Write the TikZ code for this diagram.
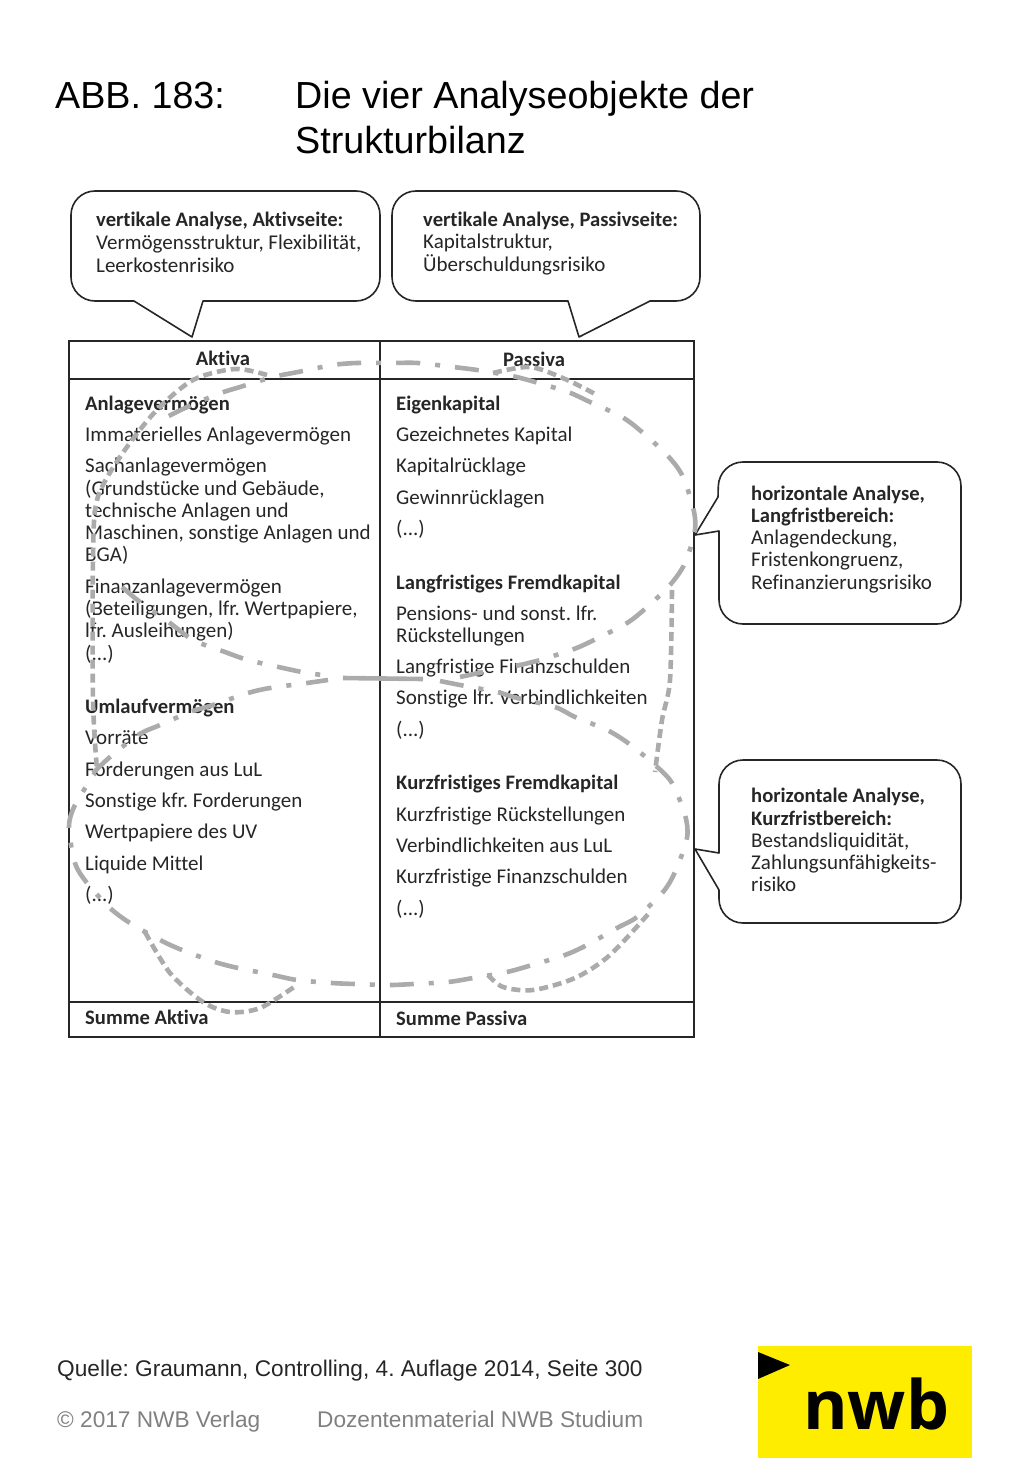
\documentclass[tikz,border=0pt]{standalone}
\usepackage{fontspec}
\setmainfont{Carlito}[Ligatures={NoCommon}]
\newfontfamily\titlefont{Liberation Sans}
\newfontfamily\logofont{Open Sans}
\usepackage{tikz}
\definecolor{inkgray}{HTML}{262626}
\definecolor{loopgray}{HTML}{ABABAB}
\definecolor{nwbyellow}{HTML}{FFED00}
\frenchspacing
\tikzset{
    rowtext/.style={anchor=base west, inner sep=0pt, text=inkgray, font=\fontsize{21}{25}\selectfont},
    rowbold/.style={rowtext, font=\fontsize{20.6}{25}\selectfont\bfseries},
    calloutbox/.style={draw=inkgray, line width=1.6pt, fill=white, line join=round},
    tableline/.style={draw=inkgray, line width=1.8pt},
    loopbar/.style={draw=loopgray, line width=4.6pt},
    dashdotloop/.style={loopbar, dash pattern=on 24pt off 15pt on 5pt off 15pt},
    dashloop/.style={loopbar, dash pattern=on 9pt off 5pt},
    titletext/.style={anchor=base west, inner sep=0pt, text=black, font=\titlefont\fontsize{37.7}{40}\selectfont},
    foottext/.style={anchor=base west, inner sep=0pt, font=\titlefont\fontsize{22.65}{26}\selectfont}
}
\begin{document}
\begin{tikzpicture}[x=1pt, y=-1pt]
    \useasboundingbox (0,0) rectangle (1024,1479);

    % Title
    \node[titletext] (TitleNo) at (55,109) {ABB. 183:};
    \node[titletext] (TitleA) at (295,109) {Die vier Analyseobjekte der};
    \node[titletext] (TitleB) at (295,154) {Strukturbilanz};

    % Speech bubbles
    \draw[calloutbox] (134,301) [rounded corners=24pt] -- (71,301) -- (71,191) -- (380,191) -- (380,301)
        [sharp corners] -- (203,301) -- (192,337) -- cycle;
    \draw[calloutbox] (568,301) [rounded corners=24pt] -- (392,301) -- (392,191) -- (700,191) -- (700,301)
        [sharp corners] -- (650,301) -- (579,337) -- cycle;
    \draw[calloutbox] (718,497) [rounded corners=24pt] -- (719,462) -- (961,462) -- (961,624) -- (719,624)
        [sharp corners] -- (719,531) -- (695,535) -- cycle;
    \draw[calloutbox] (719,853) [rounded corners=24pt] -- (719,760) -- (961,760) -- (961,923) -- (719,923)
        [sharp corners] -- (719,890) -- (695,849) -- cycle;

    % Bubble texts
    \foreach \x/\y/\i/\t in {96/227/1/{vertikale Analyse, Aktivseite:}, 423/226/2/{vertikale Analyse, Passivseite:},
        751/500/3/{horizontale Analyse,}, 751/522/4/{Langfristbereich:}, 751/802/5/{horizontale Analyse,}, 751/825/6/{Kurzfristbereich:}}
        \node[rowbold] (BubbleHead\i) at (\x,\y) {\t};
    \foreach \x/\y/\i/\t in {96/250/1/{Vermögensstruktur, Flexibilität,}, 96/272/2/{Leerkostenrisiko},
        423/248/3/{Kapitalstruktur,}, 423/271/4/{Überschuldungsrisiko},
        751/544/5/{Anlagendeckung,}, 751/566/6/{Fristenkongruenz,}, 751/589/7/{Refinanzierungsrisiko},
        751/847/8/{Bestandsliquidität,}, 751/869/9/{Zahlungsunfähigkeits-}, 751/891/10/{risiko}}
        \node[rowtext] (BubbleRow\i) at (\x,\y) {\t};

    % Table frame
    \coordinate (TL) at (69,341);
    \coordinate (BR) at (694,1037);
    \draw[tableline] (TL) rectangle (BR);
    \draw[tableline] (380,341) -- (380,1037);
    \draw[tableline] (69,379) -- (694,379);
    \draw[tableline] (69,1002) -- (694,1002);

    % Table texts
    \node[rowbold, anchor=base] (Aktiva) at (223,365) {Aktiva};
    \node[rowbold, anchor=base] (Passiva) at (534,366) {Passiva};
    \foreach \x/\y/\i/\t in {85/410/1/{Anlagevermögen}, 85/713/2/{Umlaufvermögen}, 85/1024/3/{Summe Aktiva},
        396/410/4/{Eigenkapital}, 396/589/5/{Langfristiges Fremdkapital}, 396/789/6/{Kurzfristiges Fremdkapital}, 396/1025/7/{Summe Passiva}}
        \node[rowbold] (Head\i) at (\x,\y) {\t};
    \foreach \y/\i/\t in {441/1/{Immaterielles Anlagevermögen}, 472/2/{Sachanlagevermögen}, 495/3/{(Grundstücke und Gebäude,},
        517/4/{technische Anlagen und}, 539/5/{Maschinen, sonstige Anlagen und}, 561/6/{BGA)}, 593/7/{Finanzanlagevermögen},
        615/8/{(Beteiligungen, lfr. Wertpapiere,}, 637/9/{lfr. Ausleihungen)}, 660/10/{(...)}, 744/11/{Vorräte},
        776/12/{Forderungen aus LuL}, 807/13/{Sonstige kfr. Forderungen}, 838/14/{Wertpapiere des UV}, 870/15/{Liquide Mittel}, 901/16/{(...)}}
        \node[rowtext] (Left\i) at (85,\y) {\t};
    \foreach \y/\i/\t in {441/1/{Gezeichnetes Kapital}, 472/2/{Kapitalrücklage}, 504/3/{Gewinnrücklagen}, 535/4/{(...)},
        620/5/{Pensions- und sonst. lfr.}, 642/6/{Rückstellungen}, 673/7/{Langfristige Finanzschulden}, 704/8/{Sonstige lfr. Verbindlichkeiten},
        736/9/{(...)}, 821/10/{Kurzfristige Rückstellungen}, 852/11/{Verbindlichkeiten aus LuL}, 883/12/{Kurzfristige Finanzschulden}, 915/13/{(...)}}
        \node[rowtext] (Right\i) at (396,\y) {\t};

    % Upper loop
    \draw[dashdotloop] plot[smooth] coordinates {(93,773) (110,757) (138,735) (160,725) (190,712) (213,705) (248,693) (270,688)
        (307,683) (328,680)};
    \draw[loopbar] (343,678) -- (423,679);
    \draw[loopbar] (460,677) -- (483,672);
    \draw[dashdotloop] plot[smooth] coordinates {(516,666) (540,660) (574,649) (596,639) (627,623) (646,608) (670,585) (685,563)
        (695,530) (693,507) (682,475) (667,455) (642,432) (622,417) (590,402) (568,392) (535,382) (512,376) (477,370) (453,367)
        (418,363) (392,363) (357,363) (333,365) (298,372) (273,377) (240,387) (218,394) (185,408) (165,418)};
    % Lower loop
    \draw[dashdotloop] plot[smooth] coordinates {(122,587) (140,602) (170,623) (193,640) (225,652) (248,660) (283,668) (307,673) (323,675)};
    \draw[dashdotloop] plot[smooth] coordinates {(440,681) (460,685) (497,692) (517,698) (555,707) (575,717) (607,730) (628,743)
        (655,765) (672,783) (685,815) (687,838) (675,872) (663,892) (637,917) (617,928) (587,945) (565,955) (532,965) (507,972)
        (473,978) (448,982) (413,984) (390,985) (355,984) (332,983) (297,980) (273,975) (238,968) (215,962) (182,950) (160,940)
        (130,923) (110,908) (87,883) (75,863) (69,827) (75,805) (95,773)};
    % Dashed pieces
    \draw[dashloop] plot[smooth] coordinates {(267,375) (235,369) (193,380) (155,412) (120,457) (97,500) (93,560) (93,700) (97,770)};
    \draw[dashloop] plot[smooth] coordinates {(493,373) (530,367) (565,379) (597,395)};
    \draw[dashloop] plot[smooth] coordinates {(672,590) (670,680) (662,720) (655,772)};
    \draw[dashloop] plot[smooth] coordinates {(145,932) (170,973) (203,1002) (230,1012) (260,1008) (297,985)};
    \draw[dashloop] plot[smooth] coordinates {(488,975) (503,987) (533,990) (575,978) (610,955) (650,912)};

    % Footer
    \node[foottext, text=black!85] (Source) at (57,1376) {Quelle: Graumann, Controlling, 4. Auflage 2014, Seite 300};
    \node[foottext, text=black!50] (Copy) at (57,1427) {© 2017 NWB Verlag};
    \node[foottext, text=black!50] (Docent) at (317,1427) {Dozentenmaterial NWB Studium};

    % Logo
    \fill[nwbyellow] (758,1346) rectangle (972,1458);
    \fill[black] (758,1352) -- (790,1365) -- (758,1379) -- cycle;
    \node[anchor=base west, inner sep=0pt, font=\logofont\bfseries\fontsize{68}{70}\selectfont] (Logo) at (803,1429) {nwb};
\end{tikzpicture}
\end{document}
